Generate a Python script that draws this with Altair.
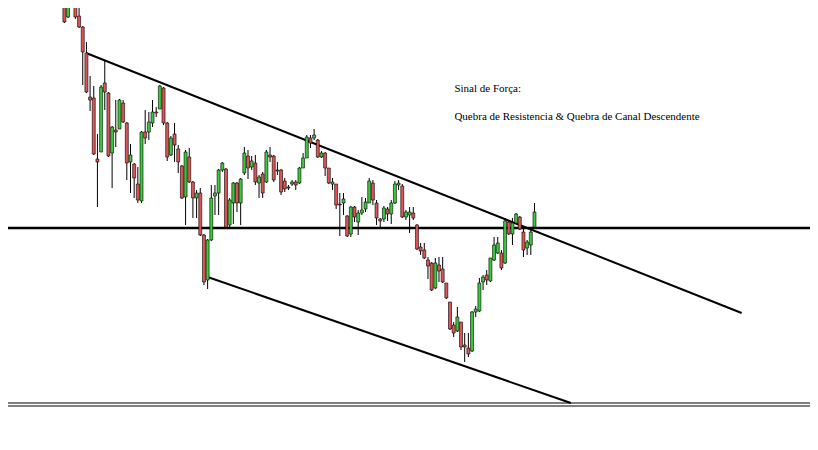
import altair as alt
import pandas as pd

# candle prices (index = bar number)
opens = [462, 468, 478, 466, 474, 462, 458, 453, 433, 462, 453, 434, 423, 397, 353, 352, 291, 298, 367, 357,
         297, 320, 321, 347, 327, 288, 286, 266, 249, 318, 318, 327, 338, 341, 362, 327, 295, 316, 301, 284,
         253, 293, 268, 252, 257, 215, 170, 210, 254, 257, 280, 281, 225, 247, 267, 247, 277, 294, 283, 287,
         267, 276, 268, 295, 294, 280, 280, 269, 263, 266, 268, 267, 282, 292, 312, 312, 310, 293, 297, 282,
         266, 266, 246, 247, 234, 216, 243, 228, 237, 241, 247, 267, 247, 231, 231, 241, 236, 247, 265, 264,
         233, 235, 237, 225, 203, 200, 190, 187, 162, 185, 181, 167, 148, 125, 119, 128, 105, 102, 99, 138,
         139, 168, 175, 169, 190, 197, 197, 187, 228, 216, 227, 233, 218, 202, 205, 223]
highs = [470, 485, 482, 480, 478, 470, 468, 458, 455, 466, 458, 450, 424, 408, 374, 364, 316, 365, 390, 358,
         324, 350, 351, 350, 328, 306, 287, 283, 319, 340, 338, 350, 343, 365, 363, 328, 314, 327, 305, 285,
         300, 302, 269, 260, 262, 216, 211, 265, 265, 281, 288, 282, 252, 268, 268, 272, 303, 300, 294, 295,
         275, 278, 300, 303, 295, 288, 281, 272, 265, 270, 270, 283, 297, 315, 315, 321, 311, 299, 298, 282,
         272, 266, 257, 257, 235, 244, 244, 240, 253, 252, 272, 270, 250, 232, 244, 243, 250, 269, 270, 266,
         240, 243, 243, 226, 207, 207, 193, 188, 192, 193, 193, 167, 148, 128, 143, 128, 117, 117, 139, 144,
         172, 175, 180, 192, 213, 213, 200, 232, 229, 232, 237, 234, 222, 210, 221, 247]
lows = [444, 460, 462, 458, 459, 454, 451, 427, 432, 448, 431, 422, 365, 357, 339, 295, 243, 298, 340, 293,
        262, 303, 321, 327, 270, 257, 252, 247, 247, 306, 310, 323, 333, 341, 325, 289, 294, 288, 277, 251,
        225, 267, 232, 232, 214, 165, 161, 209, 235, 235, 278, 222, 223, 226, 238, 225, 275, 271, 280, 265,
        252, 252, 267, 288, 268, 275, 255, 258, 260, 264, 260, 266, 282, 292, 302, 310, 292, 292, 274, 266,
        260, 241, 214, 235, 213, 213, 228, 215, 235, 238, 247, 245, 225, 222, 228, 229, 226, 246, 260, 232,
        230, 217, 230, 200, 195, 191, 171, 159, 161, 168, 167, 151, 120, 113, 118, 100, 88, 93, 98, 133,
        138, 160, 165, 168, 189, 196, 180, 186, 215, 205, 226, 220, 193, 195, 195, 222]
closes = [452, 478, 466, 474, 462, 458, 464, 428, 452, 453, 433, 423, 398, 358, 350, 296, 288, 363, 358, 294,
          323, 318, 350, 328, 287, 295, 272, 250, 318, 312, 328, 338, 337, 364, 327, 293, 312, 305, 288, 252,
          298, 268, 252, 257, 215, 168, 210, 252, 257, 280, 287, 223, 250, 267, 247, 271, 297, 282, 289, 268,
          273, 257, 298, 293, 270, 279, 258, 261, 262, 268, 265, 282, 292, 313, 307, 315, 293, 297, 282, 267,
          268, 245, 245, 251, 214, 243, 233, 237, 240, 248, 269, 250, 232, 229, 242, 236, 247, 266, 267, 233,
          238, 238, 232, 201, 199, 192, 184, 160, 187, 179, 168, 152, 121, 117, 133, 103, 103, 96, 138, 141,
          167, 173, 170, 192, 205, 207, 182, 229, 216, 227, 236, 221, 200, 208, 218, 238]

# trend lines: (bar index, price)
upper_idx = [12.9, 191.4]
upper_px = [397, 137]
lower_idx = [46.0, 144.9]
lower_px = [173, 47]
support_level = [222]
base_levels = [47, 44]

notes = ["Sinal de Força:", "Quebra de Resistencia & Quebra de Canal Descendente"]
note_idx = [113.2, 113.2]
note_px = [361, 333]

n = len(opens)
df = pd.DataFrame({
    "i": list(range(n)), "open": opens, "high": highs, "low": lows, "close": closes,
})
df["dir"] = ["up" if c >= o else "down" for o, c in zip(opens, closes)]

lines = pd.DataFrame({
    "i": upper_idx + lower_idx,
    "p": upper_px + lower_px,
    "g": ["upper", "upper", "lower", "lower"],
})
notes_df = pd.DataFrame({"i": note_idx, "p": note_px, "t": notes})

xs = alt.Scale(domain=[-6.99, 208.66], nice=False, zero=False)
ys = alt.Scale(domain=[8, 442], nice=False, zero=False)

base = alt.Chart(df)
wicks = base.mark_rule(color="black", strokeWidth=1, clip=True).encode(
    x=alt.X("i:Q", scale=xs, axis=None),
    y=alt.Y("low:Q", scale=ys, axis=None),
    y2="high:Q",
)
bodies = base.mark_bar(size=3, stroke="black", strokeWidth=0.6, clip=True).encode(
    x=alt.X("i:Q", scale=xs, axis=None),
    y=alt.Y("open:Q", scale=ys, axis=None),
    y2="close:Q",
    color=alt.Color("dir:N", scale=alt.Scale(domain=["up", "down"], range=["#3cc83c", "#dc5555"]), legend=None),
)
trend = alt.Chart(lines).mark_line(color="black", strokeWidth=2, clip=True).encode(
    x=alt.X("i:Q", scale=xs, axis=None),
    y=alt.Y("p:Q", scale=ys, axis=None),
    detail="g:N",
)
support = alt.Chart(pd.DataFrame({"p": support_level})).mark_rule(color="black", strokeWidth=2.5).encode(
    y=alt.Y("p:Q", scale=ys, axis=None)
)
base_lines = alt.Chart(pd.DataFrame({"p": base_levels})).mark_rule(color="black", strokeWidth=1).encode(
    y=alt.Y("p:Q", scale=ys, axis=None)
)
text = alt.Chart(notes_df).mark_text(
    align="left", baseline="middle", font="Liberation Serif", fontSize=11, color="black"
).encode(
    x=alt.X("i:Q", scale=xs, axis=None),
    y=alt.Y("p:Q", scale=ys, axis=None),
    text="t:N",
)

chart = alt.layer(support, base_lines, trend, wicks, bodies, text).properties(
    width=802, height=434, padding=0, autosize="none", background="white"
).configure_view(stroke=None)

chart.save("out.html", embed_options={"renderer": "svg", "actions": False})
